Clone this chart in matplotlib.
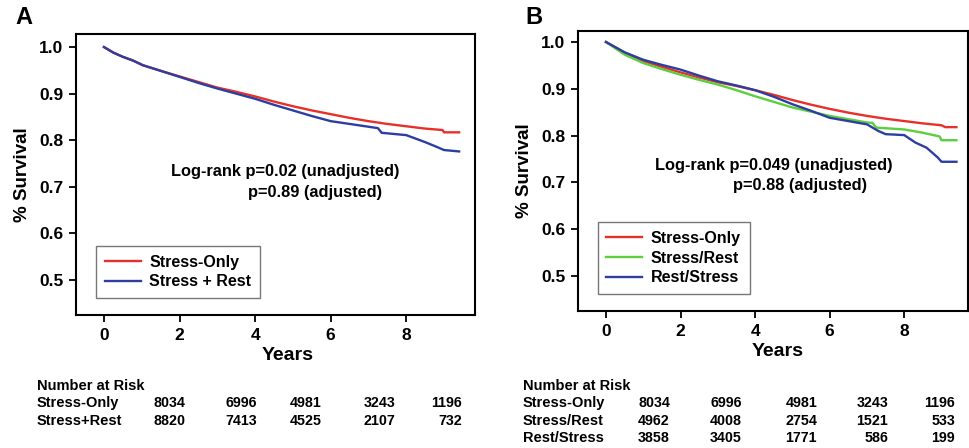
import matplotlib
matplotlib.use("Agg")
import matplotlib.pyplot as plt

plt.rcParams['font.family'] = ['Liberation Sans', 'DejaVu Sans']
plt.rcParams['font.weight'] = 'bold'

# panel A curves (years, survival)
a_only_t = [0, 0.25, 0.5, 0.77, 1.03, 1.5, 2, 2.5, 3, 3.5, 4, 4.5, 5, 5.5, 6, 6.5, 7, 7.5, 8, 8.5, 8.96, 9.0, 9.4]
a_only_s = [1.0, 0.988, 0.979, 0.971, 0.961, 0.949, 0.937, 0.925, 0.913, 0.904, 0.894, 0.883, 0.873, 0.864, 0.856, 0.848, 0.841, 0.835, 0.830, 0.825, 0.822, 0.817, 0.817]
a_rest_t = [0, 0.25, 0.5, 0.77, 1.03, 1.5, 2, 2.5, 3, 3.5, 4, 4.5, 5, 5.5, 6, 6.5, 7, 7.25, 7.35, 8, 8.5, 8.8, 9.0, 9.4]
a_rest_s = [1.0, 0.988, 0.979, 0.971, 0.961, 0.949, 0.936, 0.923, 0.911, 0.900, 0.889, 0.876, 0.864, 0.852, 0.841, 0.835, 0.829, 0.826, 0.816, 0.811, 0.796, 0.786, 0.779, 0.776]

# panel B curves
b_only_t = [0, 0.5, 1, 1.5, 2, 2.5, 3, 3.5, 4, 4.5, 5, 5.5, 6, 6.5, 7, 7.5, 8, 8.5, 9, 9.1, 9.4]
b_only_s = [1.0, 0.977, 0.959, 0.947, 0.935, 0.924, 0.914, 0.906, 0.897, 0.887, 0.876, 0.866, 0.857, 0.849, 0.842, 0.836, 0.831, 0.826, 0.822, 0.818, 0.818]
b_sr_t = [0, 0.5, 1, 1.5, 2, 2.5, 3, 3.5, 4, 4.5, 5, 5.5, 6, 6.5, 7, 7.15, 7.25, 8, 8.5, 8.95, 9.0, 9.4]
b_sr_s = [1.0, 0.973, 0.955, 0.942, 0.930, 0.919, 0.909, 0.897, 0.884, 0.872, 0.860, 0.851, 0.842, 0.835, 0.828, 0.827, 0.817, 0.813, 0.806, 0.798, 0.790, 0.790]
b_rs_t = [0, 0.5, 1, 1.5, 2, 2.5, 3, 3.5, 4, 4.5, 5, 5.5, 6, 6.5, 7, 7.3, 7.5, 8, 8.3, 8.6, 8.8, 8.9, 9.0, 9.4]
b_rs_s = [1.0, 0.978, 0.962, 0.951, 0.941, 0.928, 0.916, 0.907, 0.897, 0.883, 0.867, 0.853, 0.838, 0.831, 0.824, 0.810, 0.803, 0.801, 0.785, 0.774, 0.760, 0.753, 0.744, 0.744]

risk_a_names = ['Stress-Only', 'Stress+Rest']
risk_a = [[8034, 6996, 4981, 3243, 1196], [8820, 7413, 4525, 2107, 732]]
risk_b_names = ['Stress-Only', 'Stress/Rest', 'Rest/Stress']
risk_b = [[8034, 6996, 4981, 3243, 1196], [4962, 4008, 2754, 1521, 533], [3858, 3405, 1771, 586, 199]]

RED = '#e8302a'
GREEN = '#5ccf3e'
BLUE = '#2c3ea0'

W, H = 969, 448
fig = plt.figure(figsize=(W / 100, H / 100), dpi=100)


def style_axes(ax, xlim, ylim, xlab_pos):
    ax.set_xlim(*xlim)
    ax.set_ylim(*ylim)
    ax.set_xticks([0, 2, 4, 6, 8])
    ax.set_yticks([0.5, 0.6, 0.7, 0.8, 0.9, 1.0])
    ax.set_yticklabels(['0.5', '0.6', '0.7', '0.8', '0.9', '1.0'])
    ax.tick_params(direction='out', length=5, width=1.3, labelsize=12.5, pad=4)
    for lab in ax.get_xticklabels() + ax.get_yticklabels():
        lab.set_fontweight('bold')
    for sp in ax.spines.values():
        sp.set_linewidth(1.5)
    ax.set_xlabel('Years', fontsize=14, fontweight='bold', labelpad=4)
    ax.xaxis.set_label_coords(xlab_pos, -0.115)
    ax.set_ylabel('% Survival', fontsize=13.5, fontweight='bold', labelpad=6)


def add_legend(ax):
    leg = ax.legend(loc='lower left', bbox_to_anchor=(0.05, 0.06), borderaxespad=0,
                    fontsize=11.5, frameon=True, fancybox=False, edgecolor='#555555',
                    handlelength=2.25, borderpad=0.55, labelspacing=0.3, handletextpad=0.55)
    leg.get_frame().set_linewidth(1.0)
    for t in leg.get_texts():
        t.set_fontweight('bold')


# panel A
axA = fig.add_axes([76 / W, 1 - 315 / H, 399 / W, 281 / H])
axA.plot(a_only_t, a_only_s, color=RED, lw=1.7, label='Stress-Only')
axA.plot(a_rest_t, a_rest_s, color=BLUE, lw=1.7, label='Stress + Rest')
style_axes(axA, (-0.74, 9.82), (0.425, 1.028), 0.531)
axA.text(1.77, 0.732, 'Log-rank p=0.02 (unadjusted)', fontsize=11.8, fontweight='bold', va='center')
axA.text(3.8, 0.687, 'p=0.89 (adjusted)', fontsize=11.8, fontweight='bold', va='center')
add_legend(axA)
fig.text(15 / W, 1 - 18 / H, 'A', fontsize=17, fontweight='bold', va='center')

# panel B
axB = fig.add_axes([578 / W, 1 - 311 / H, 390 / W, 280 / H])
axB.plot(b_only_t, b_only_s, color=RED, lw=1.7, label='Stress-Only')
axB.plot(b_sr_t, b_sr_s, color=GREEN, lw=1.7, label='Stress/Rest')
axB.plot(b_rs_t, b_rs_s, color=BLUE, lw=1.7, label='Rest/Stress')
style_axes(axB, (-0.75, 9.71), (0.425, 1.0235), 0.513)
axB.text(1.32, 0.737, 'Log-rank p=0.049 (unadjusted)', fontsize=11.8, fontweight='bold', va='center')
axB.text(3.4, 0.693, 'p=0.88 (adjusted)', fontsize=11.8, fontweight='bold', va='center')
add_legend(axB)
fig.text(525 / W, 1 - 17 / H, 'B', fontsize=17, fontweight='bold', va='center')


# number at risk tables
def risk_table(x0, col_right, names, rows):
    fig.text(x0 / W, 1 - 386 / H, 'Number at Risk', fontsize=10.5, fontweight='bold', va='center')
    for i, (name, vals) in enumerate(zip(names, rows)):
        y = 1 - (403 + 17.5 * i) / H
        fig.text(x0 / W, y, name, fontsize=10.5, fontweight='bold', va='center')
        for xr, v in zip(col_right, vals):
            fig.text(xr / W, y, str(v), fontsize=10.3, fontweight='bold', va='center', ha='right')


risk_table(37, [185, 257, 322, 395, 462], risk_a_names, risk_a)
risk_table(523, [670, 742, 817, 888, 955], risk_b_names, risk_b)

fig.savefig('out.png', dpi=100)
